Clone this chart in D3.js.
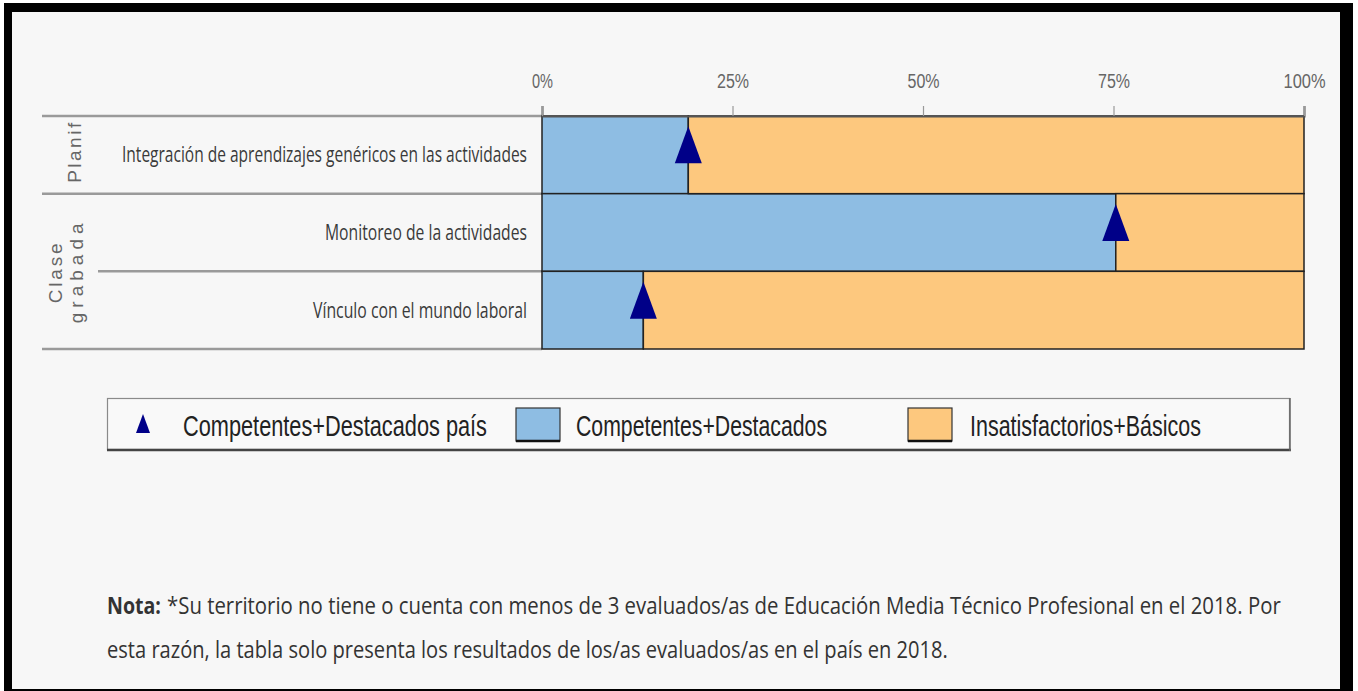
<!DOCTYPE html>
<html>
<head>
<meta charset="utf-8">
<script src="https://cdn.jsdelivr.net/npm/d3@7"></script>
<style>
  html, body { margin: 0; padding: 0; background: #ffffff; }
  svg { display: block; }
</style>
</head>
<body>
<svg id="chart" width="1358" height="691"></svg>
<script>
// ---------------- data ----------------
const categories = [
  "Integración de aprendizajes genéricos en las actividades",
  "Monitoreo de la actividades",
  "Vínculo con el mundo laboral"
];
const groupNames = ["Planif", "Clase grabada"];
const groupOfCategory = ["Planif", "Clase grabada", "Clase grabada"];
const competentesDestacados = [19.2, 75.3, 13.3];
const insatisfactoriosBasicos = [80.8, 24.7, 86.7];
const competentesDestacadosPais = [19.2, 75.3, 13.3];
const tickValues = [0, 25, 50, 75, 100];
const legendLabels = ["Competentes+Destacados  país", "Competentes+Destacados", "Insatisfactorios+Básicos"];
const noteBold = "Nota:";
const noteLine1 = "*Su territorio no tiene o cuenta con menos de 3 evaluados/as de Educación Media Técnico Profesional en el 2018. Por";
const noteLine2 = "esta razón, la tabla solo presenta los resultados de los/as evaluados/as en el país en 2018.";

// ---------------- styles ----------------
const BLUE = "#8ebde3";
const ORANGE = "#fdc87e";
const NAVY = "#000088";
const NARROW = "'Liberation Sans Narrow', 'Arial Narrow', 'Liberation Sans', Arial, sans-serif";
const HUMAN = "'Open Sans', 'Noto Sans', sans-serif";

const svg = d3.select("#chart");

// frame
svg.append("rect").attr("x", 4).attr("y", 3).attr("width", 1349).attr("height", 688).attr("fill", "#000");
svg.append("rect").attr("x", 12).attr("y", 12).attr("width", 1328).attr("height", 677).attr("fill", "#f7f7f7");

// scales
const x = d3.scaleLinear().domain([0, 100]).range([542, 1304]);
const y = d3.scaleBand().domain(categories).range([116, 349]).paddingInner(0).paddingOuter(0);

// left separator lines
const bounds = [
  {yv: y.range()[0], x0: 42},
  {yv: y(categories[1]), x0: 42},
  {yv: y(categories[2]), x0: 98},
  {yv: y.range()[1], x0: 42}
];
svg.append("g").selectAll("line").data(bounds).join("line")
  .attr("x1", d => d.x0).attr("x2", x(0))
  .attr("y1", d => d.yv).attr("y2", d => d.yv)
  .attr("stroke", "#9a9a9a").attr("stroke-width", 2.5);

// bars
const rows = categories.map((c, i) => ({cat: c, comp: competentesDestacados[i], insat: insatisfactoriosBasicos[i], pais: competentesDestacadosPais[i]}));
const gBars = svg.append("g");
gBars.selectAll("rect.comp").data(rows).join("rect").attr("class", "comp")
  .attr("x", x(0)).attr("y", d => y(d.cat))
  .attr("width", d => x(d.comp) - x(0)).attr("height", y.bandwidth())
  .attr("fill", BLUE).attr("stroke", "#222").attr("stroke-width", 1.5);
gBars.selectAll("rect.insat").data(rows).join("rect").attr("class", "insat")
  .attr("x", d => x(d.comp)).attr("y", d => y(d.cat))
  .attr("width", d => x(d.comp + d.insat) - x(d.comp)).attr("height", y.bandwidth())
  .attr("fill", ORANGE).attr("stroke", "#222").attr("stroke-width", 1.5);

// triangles (country)
const triW = 27, triH = 37;
svg.append("g").selectAll("path").data(rows).join("path")
  .attr("d", d => {
    const cx = x(d.pais), cy = y(d.cat) + y.bandwidth() / 2 - 10;
    return `M${cx},${cy - triH / 2}L${cx + triW / 2},${cy + triH / 2}L${cx - triW / 2},${cy + triH / 2}Z`;
  })
  .attr("fill", NAVY);

// top axis
const axis = d3.axisTop(x).tickValues(tickValues).tickFormat(d => d + "%").tickSize(10).tickPadding(18);
const gAxis = svg.append("g").attr("transform", `translate(0,${y.range()[0]})`).call(axis);
gAxis.select(".domain").attr("stroke", "#555").attr("stroke-width", 2);
gAxis.selectAll(".tick line").attr("stroke", "#999").attr("stroke-width", 1.2);
gAxis.selectAll(".tick text").attr("fill", "#666").attr("font-family", NARROW).attr("font-size", 20)
  .attr("textLength", d => d === 100 ? 42 : (d === 0 ? 21 : 32)).attr("lengthAdjust", "spacingAndGlyphs");

// category labels
const labelLens = [405, 202, 214];
svg.append("g").selectAll("text").data(categories).join("text")
  .attr("x", 527).attr("y", d => y(d) + y.bandwidth() / 2)
  .attr("dy", "0.35em").attr("text-anchor", "end")
  .attr("font-family", HUMAN).attr("font-size", 21).attr("fill", "#3a3a3a")
  .attr("textLength", (d, i) => labelLens[i]).attr("lengthAdjust", "spacingAndGlyphs")
  .text(d => d);

// group labels (rotated)
const groupSpecs = groupNames.map(g => {
  const cats = categories.filter((c, i) => groupOfCategory[i] === g);
  const top = y(cats[0]), bot = y(cats[cats.length - 1]) + y.bandwidth();
  return {name: g, cy: (top + bot) / 2 + (cats.length > 1 ? 2 : -2), words: g.split(" ")};
});
const wordX = {1: [74], 2: [55, 76]};
const wordLen = {"Planif": 60, "Clase": 60, "grabada": 100};
groupSpecs.forEach(gs => {
  gs.words.forEach((w, j) => {
    const xx = wordX[gs.words.length][j];
    svg.append("text")
      .attr("transform", `translate(${xx},${gs.cy}) rotate(-90)`)
      .attr("text-anchor", "middle").attr("dy", "0.35em")
      .attr("font-family", "'Liberation Sans', Arial, sans-serif").attr("font-size", 19)
      .attr("fill", "#666")
      .attr("textLength", wordLen[w]).attr("lengthAdjust", "spacing")
      .text(w);
  });
});

// legend
const gLeg = svg.append("g");
gLeg.append("rect").attr("x", 107.5).attr("y", 398.5).attr("width", 1182).attr("height", 51)
  .attr("fill", "#f9f9f9").attr("stroke", "#8a8a8a").attr("stroke-width", 1.2);
gLeg.append("line").attr("x1", 107).attr("x2", 1291).attr("y1", 450).attr("y2", 450).attr("stroke", "#444").attr("stroke-width", 2.5);
gLeg.append("line").attr("x1", 1290).attr("x2", 1290).attr("y1", 398).attr("y2", 451).attr("stroke", "#666").attr("stroke-width", 1.5);
// triangle symbol
gLeg.append("path").attr("d", "M143,414L150,433L136,433Z").attr("fill", NAVY);
// swatches
const swatches = [{x: 516, c: BLUE}, {x: 908, c: ORANGE}];
gLeg.selectAll("rect.sw").data(swatches).join("rect").attr("class", "sw")
  .attr("x", d => d.x).attr("y", 408).attr("width", 44).attr("height", 33)
  .attr("fill", d => d.c).attr("stroke", "#333").attr("stroke-width", 1.2);
gLeg.selectAll("line.sw").data(swatches).join("line").attr("class", "sw")
  .attr("x1", d => d.x).attr("x2", d => d.x + 44).attr("y1", 441).attr("y2", 441)
  .attr("stroke", "#111").attr("stroke-width", 2.5);
const legText = [{x: 183, len: 304}, {x: 576, len: 251}, {x: 970, len: 231}];
gLeg.selectAll("text").data(legendLabels).join("text")
  .attr("x", (d, i) => legText[i].x).attr("y", 436)
  .attr("font-family", NARROW).attr("font-size", 29).attr("fill", "#222")
  .attr("textLength", (d, i) => legText[i].len).attr("lengthAdjust", "spacingAndGlyphs")
  .text(d => d);

// note (each line horizontally scaled to the reference width)
function noteText(str, x0, y0, targetW, bold) {
  const g = svg.append("g");
  const t = g.append("text").attr("x", 0).attr("y", 0)
    .attr("font-family", HUMAN).attr("font-size", 24).attr("fill", "#333")
    .attr("font-weight", bold ? "bold" : "normal")
    .text(str);
  const w = t.node().getComputedTextLength();
  g.attr("transform", `translate(${x0},${y0}) scale(${targetW / w},1)`);
}
noteText(noteBold, 107, 614, 54, true);
noteText(noteLine1, 167, 614, 1114, false);
noteText(noteLine2, 107, 658, 841, false);
</script>
</body>
</html>
